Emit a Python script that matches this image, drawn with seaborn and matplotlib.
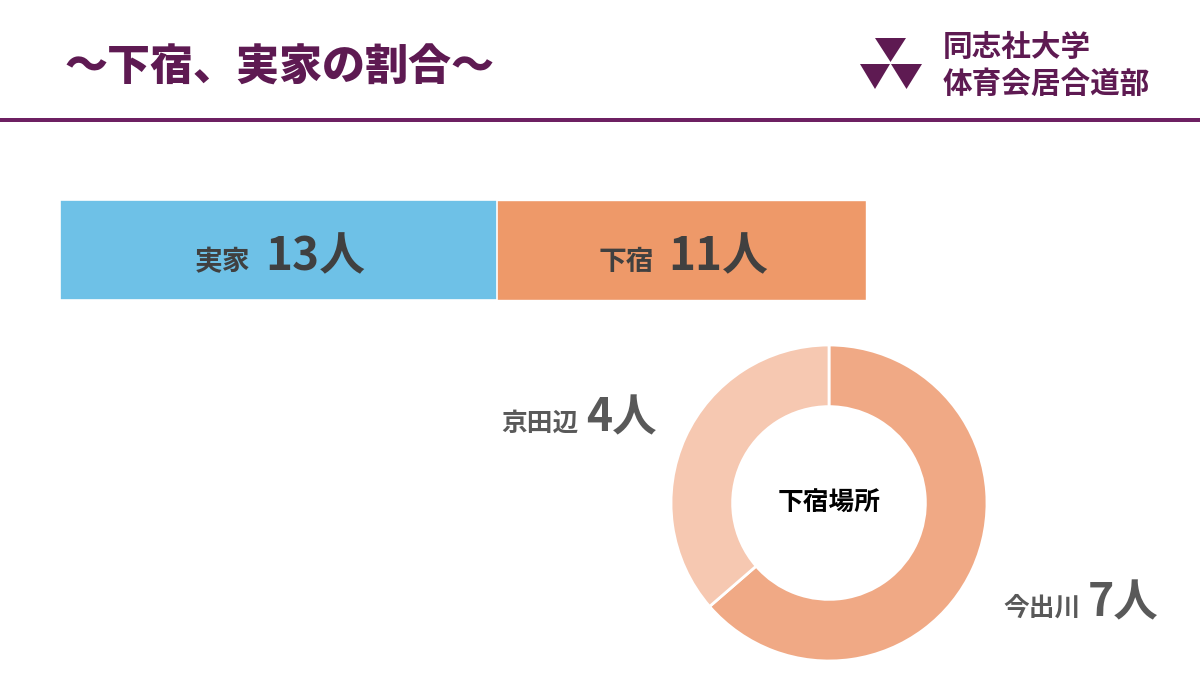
import matplotlib
matplotlib.use("Agg")
import matplotlib.pyplot as plt
import seaborn as sns
import pandas as pd
from matplotlib.patches import Polygon, Rectangle

# ---- data ----
bar_labels = ["実家", "下宿"]
bar_values = [13, 11]
donut_labels = ["今出川", "京田辺"]
donut_values = [7, 4]
title = "～下宿、実家の割合～"
org_lines = ["同志社大学", "体育会居合道部"]
donut_center = "下宿場所"
unit = "人"

# ---- style ----
sns.set_theme(style="white")
plt.rcParams["font.family"] = ["Noto Sans CJK JP", "DejaVu Sans"]

W, H = 1200, 675
PURPLE = "#5E1A52"
LINE = "#6D2062"
BLUE = "#6EC1E7"
ORANGE = "#EE9969"
D_DARK = "#F0A985"
D_LIGHT = "#F6C8B1"
GRAY = "#404040"
LGRAY = "#595959"

fig = plt.figure(figsize=(12, 6.75), dpi=100)
fig.patch.set_facecolor("white")

def fx(x):
    return x / W

def fy(y):
    return 1 - y / H

# ---- title + header ----
fig.text(fx(64), fy(68), title, fontsize=31, fontweight="heavy", color=PURPLE,
         ha="left", va="center")
fig.patches.append(Rectangle((0, fy(122)), 1, 4 / H, transform=fig.transFigure,
                             facecolor=LINE, edgecolor="none"))

# logo triangles
tri = [[(875, 38), (906, 38), (890.5, 62)],
       [(860, 64), (890, 64), (875, 89)],
       [(891, 64), (922, 64), (906.5, 89)]]
for t in tri:
    fig.patches.append(Polygon([(fx(a), fy(b)) for a, b in t], closed=True,
                               transform=fig.transFigure, facecolor=PURPLE,
                               edgecolor="none"))
fig.text(fx(943), fy(47), org_lines[0], fontsize=21.3, fontweight="bold",
         color=PURPLE, ha="left", va="center")
fig.text(fx(943), fy(84), org_lines[1], fontsize=21.3, fontweight="bold",
         color=PURPLE, ha="left", va="center")

# ---- stacked bar ----
axb = fig.add_axes([fx(60), fy(300), (866 - 60) / W, 100 / H])
total = sum(bar_values)
sns.barplot(x=[total], y=[""], orient="h", color=ORANGE, width=1,
            saturation=1, ax=axb)
sns.barplot(x=[bar_values[0]], y=[""], orient="h", color=BLUE, width=1,
            saturation=1, ax=axb, edgecolor="white", linewidth=1.2)
axb.set_xlim(0, total)
axb.set_ylim(0.5, -0.5)
axb.axis("off")

# bar labels (label right edge / number left edge in pixels)
bar_text_pos = [(250, 265), (654, 668)]
for lab, val, (xr, xl) in zip(bar_labels, bar_values, bar_text_pos):
    fig.text(fx(xr), fy(270), lab, fontsize=20, fontweight="bold", color=GRAY,
             ha="right", va="baseline")
    fig.text(fx(xl), fy(270), f"{val}{unit}", fontsize=33, fontweight="bold",
             color=GRAY, ha="left", va="baseline")

# ---- donut ----
cx, cy, r = 829, 503, 158
axd = fig.add_axes([fx(cx - r), fy(cy + r), 2 * r / W, 2 * r / H])
axd.pie(donut_values, colors=[D_DARK, D_LIGHT], startangle=90,
        counterclock=False,
        wedgeprops=dict(width=0.39, edgecolor="white", linewidth=2))
axd.set_xlim(-1.0, 1.0)
axd.set_ylim(-1.0, 1.0)
axd.set_aspect("equal")
axd.text(0, 0, donut_center, fontsize=18.5, fontweight="bold", color="black",
         ha="center", va="center")

# donut labels
fig.text(fx(579), fy(431), donut_labels[1], fontsize=18.5, fontweight="bold",
         color=LGRAY, ha="right", va="baseline")
fig.text(fx(586), fy(431), f"{donut_values[1]}{unit}", fontsize=32,
         fontweight="bold", color=LGRAY, ha="left", va="baseline")
fig.text(fx(1081), fy(616), donut_labels[0], fontsize=18.5, fontweight="bold",
         color=LGRAY, ha="right", va="baseline")
fig.text(fx(1088), fy(616), f"{donut_values[0]}{unit}", fontsize=32,
         fontweight="bold", color=LGRAY, ha="left", va="baseline")

fig.savefig("out.png", dpi=100, facecolor="white")
